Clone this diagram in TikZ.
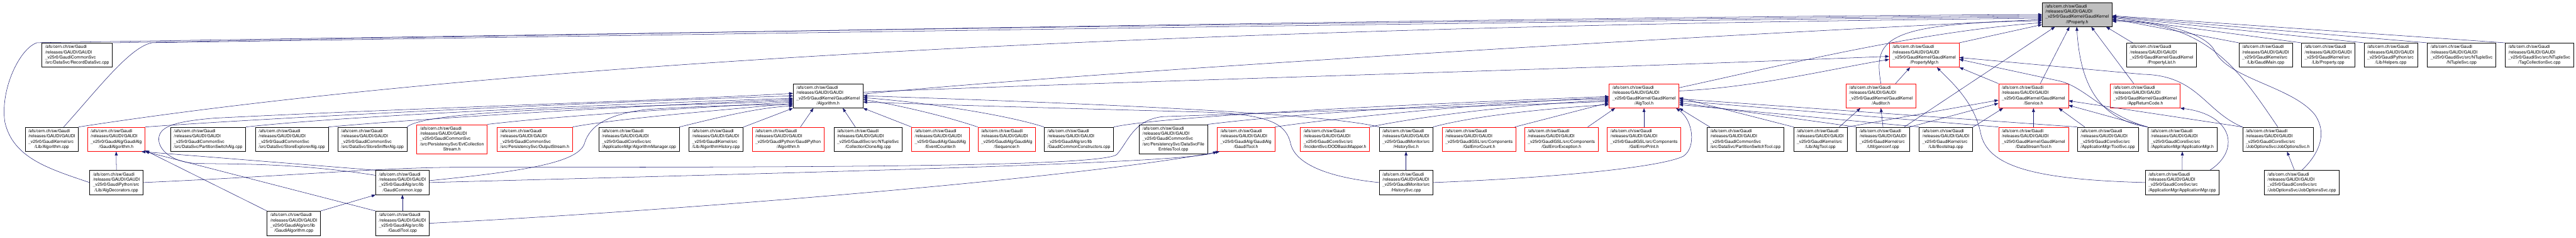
\documentclass[tikz,border=0pt]{standalone}
\usepackage{fontspec}
\setmainfont{TeX Gyre Heros}
\usetikzlibrary{arrows.meta}
\definecolor{edgeblue}{HTML}{191970}
\definecolor{rootgray}{HTML}{BFBFBF}
\newcommand{\gfont}{\fontsize{13.3}{16.1}\selectfont}
\newcommand{\gfile}[2]{\begin{tabular}{@{}l@{}}/afs/cern.ch/sw/Gaudi\\/releases/GAUDI/GAUDI\\\_v25r0/#1\\\multicolumn{1}{@{}c@{}}{#2}\end{tabular}}
\newcommand{\gfilev}[3]{\begin{tabular}{@{}l@{}}/afs/cern.ch/sw/Gaudi\\/releases/GAUDI/GAUDI\\\_v25r0/#1\\#2\\\multicolumn{1}{@{}c@{}}{#3}\end{tabular}}
\tikzset{
  file/.style={draw=black,line width=1.1pt,inner xsep=10pt,inner ysep=5.1pt,font=\gfont},
  trunc/.style={file,draw=red},
  root/.style={file,fill=rootgray},
  dep/.style={->,draw=edgeblue,line width=1pt},
}
\begin{document}
\begin{tikzpicture}[x=1pt,y=-1.1043pt,>={Triangle[length=12pt,width=9pt]}]
\useasboundingbox (0,0) rectangle (7934,661.96);

\node[root]  (ip)         at (6397.5,40.5)  {\gfile{GaudiKernel/GaudiKernel}{/IProperty.h}};

\node[file]  (recsvc)     at (237.5,153.5)  {\gfile{GaudiCommonSvc}{/src/DataSvc/RecordDataSvc.cpp}};
\node[trunc] (pmgr)       at (5926.5,153.5) {\gfile{GaudiKernel/GaudiKernel}{/PropertyMgr.h}};
\node[file]  (plist)      at (6657.5,153.5) {\gfile{GaudiKernel/GaudiKernel}{/PropertyList.h}};
\node[file]  (gmain)      at (6978,153.5)   {\gfile{GaudiKernel/src}{/Lib/GaudiMain.cpp}};
\node[file]  (propcpp)    at (7170.5,153.5) {\gfile{GaudiKernel/src}{/Lib/Property.cpp}};
\node[file]  (helpers)    at (7363.5,153.5) {\gfile{GaudiPython/src}{/Lib/Helpers.cpp}};
\node[file]  (ntsvc)      at (7581.5,153.5) {\gfile{GaudiSvc/src/NTupleSvc}{/NTupleSvc.cpp}};
\node[file]  (tagsvc)     at (7821,153.5)   {\gfile{GaudiSvc/src/NTupleSvc}{/TagCollectionSvc.cpp}};

\node[file]  (algh)       at (2550.5,267)   {\gfile{GaudiKernel/GaudiKernel}{/Algorithm.h}};
\node[trunc] (algtoolh)   at (5063.5,267)   {\gfile{GaudiKernel/GaudiKernel}{/AlgTool.h}};
\node[trunc] (auditor)    at (5793,267)     {\gfile{GaudiKernel/GaudiKernel}{/Auditor.h}};
\node[trunc] (service)    at (6263,267)     {\gfile{GaudiKernel/GaudiKernel}{/Service.h}};
\node[trunc] (appret)     at (6607,267)     {\gfile{GaudiKernel/GaudiKernel}{/AppReturnCode.h}};

\node[file]  (algcpp)     at (159.5,388)    {\gfile{GaudiKernel/src}{/Lib/Algorithm.cpp}};
\node[trunc] (gah)        at (358,388)      {\gfile{GaudiAlg/GaudiAlg}{/GaudiAlgorithm.h}};
\node[file]  (psalg)      at (641,388)      {\gfile{GaudiCommonSvc}{/src/DataSvc/PartitionSwitchAlg.cpp}};
\node[file]  (sealg)      at (899,388)      {\gfile{GaudiCommonSvc}{/src/DataSvc/StoreExplorerAlg.cpp}};
\node[file]  (ssalg)      at (1147,388)     {\gfile{GaudiCommonSvc}{/src/DataSvc/StoreSnifferAlg.cpp}};
\node[trunc] (evtcs)      at (1392,388)     {\gfilev{GaudiCommonSvc}{/src/PersistencySvc/EvtCollection}{Stream.h}};
\node[trunc] (outs)       at (1647,388)     {\gfile{GaudiCommonSvc}{/src/PersistencySvc/OutputStream.h}};
\node[file]  (algmgr)     at (1968,388)     {\gfile{GaudiCoreSvc/src}{/ApplicationMgr/AlgorithmManager.cpp}};
\node[file]  (alghist)    at (2205.5,388)   {\gfile{GaudiKernel/src}{/Lib/AlgorithmHistory.cpp}};
\node[trunc] (pyalg)      at (2427.5,388)   {\gfile{GaudiPython/GaudiPython}{/Algorithm.h}};
\node[file]  (ccalg)      at (2673.5,388)   {\gfile{GaudiSvc/src/NTupleSvc}{/CollectionCloneAlg.cpp}};
\node[trunc] (evcnt)      at (2896.5,388)   {\gfile{GaudiAlg/GaudiAlg}{/EventCounter.h}};
\node[trunc] (seqh)       at (3100.5,388)   {\gfile{GaudiAlg/GaudiAlg}{/Sequencer.h}};
\node[file]  (gccons)     at (3323,388)     {\gfile{GaudiAlg/src/lib}{/GaudiCommonConstructors.cpp}};
\node[file]  (dsfet)      at (3614,388)     {\gfilev{GaudiCommonSvc}{/src/PersistencySvc/DataSvcFile}{EntriesTool.cpp}};
\node[trunc] (gth)        at (3837.5,388)   {\gfile{GaudiAlg/GaudiAlg}{/GaudiTool.h}};
\node[trunc] (dodmap)     at (4111.5,388)   {\gfile{GaudiCoreSvc/src}{/IncidentSvc/DODBasicMapper.h}};
\node[file]  (histh)      at (4330.5,388)   {\gfile{GaudiMonitor/src}{/HistorySvc.h}};
\node[trunc] (gslcnt)     at (4555.5,388)   {\gfile{GaudiGSL/src/Components}{/GslErrorCount.h}};
\node[trunc] (gslexc)     at (4809,388)     {\gfile{GaudiGSL/src/Components}{/GslErrorException.h}};
\node[trunc] (gslprt)     at (5063.5,388)   {\gfile{GaudiGSL/src/Components}{/GslErrorPrint.h}};
\node[file]  (pstool)     at (5376,388)     {\gfile{GaudiCommonSvc}{/src/DataSvc/PartitionSwitchTool.cpp}};
\node[file]  (algtoolcpp) at (5606.5,388)   {\gfile{GaudiKernel/src}{/Lib/AlgTool.cpp}};
\node[file]  (genconf)    at (5799.5,388)   {\gfile{GaudiKernel/src}{/Util/genconf.cpp}};
\node[file]  (bootstrap)  at (5993,388)     {\gfile{GaudiKernel/src}{/Lib/Bootstrap.cpp}};
\node[trunc] (dstool)     at (6263,388)     {\gfile{GaudiKernel/GaudiKernel}{/DataStreamTool.h}};
\node[file]  (toolsvc)    at (6492,388)     {\gfile{GaudiCoreSvc/src}{/ApplicationMgr/ToolSvc.cpp}};
\node[file]  (appmgrh)    at (6721.5,388)   {\gfile{GaudiCoreSvc/src}{/ApplicationMgr/ApplicationMgr.h}};
\node[file]  (josh)       at (7015.5,388)   {\gfile{GaudiCoreSvc/src}{/JobOptionsSvc/JobOptionsSvc.h}};

\node[file]  (algdec)     at (358.5,508.5)  {\gfile{GaudiPython/src}{/Lib/AlgDecorators.cpp}};
\node[file]  (gcicpp)     at (1239.5,508.5) {\gfile{GaudiAlg/src/lib}{/GaudiCommon.icpp}};
\node[file]  (histcpp)    at (4330.5,508.5) {\gfile{GaudiMonitor/src}{/HistorySvc.cpp}};
\node[file]  (appmgrcpp)  at (6721,508.5)   {\gfile{GaudiCoreSvc/src}{/ApplicationMgr/ApplicationMgr.cpp}};
\node[file]  (joscpp)     at (7089.5,508.5) {\gfile{GaudiCoreSvc/src}{/JobOptionsSvc/JobOptionsSvc.cpp}};

\node[file]  (gacpp)      at (905,622)      {\gfile{GaudiAlg/src/lib}{/GaudiAlgorithm.cpp}};
\node[file]  (gtcpp)      at (1239.5,622)   {\gfile{GaudiAlg/src/lib}{/GaudiTool.cpp}};

\draw[dep] (recsvc.north east) .. controls (2500,85) and (5000,45) .. (ip.180);
\draw[dep] (algdec.west) .. controls (150,470) and (40,440) .. (15,340) .. controls (0,250) and (60,135) .. (114,119) .. controls (2000,92) and (5000,50) .. (ip.182);
\draw[dep] (algcpp.46) .. controls (300,250) and (400,130) .. (469,119) .. controls (2000,98) and (5000,55) .. (ip.184);
\draw[dep] (algcpp.north east) .. controls (1200,220) and (3000,80) .. (ip.186);
\draw[dep] (algh.3) .. controls (3300,205) and (5000,110) .. (ip.188);
\draw[dep] (auditor.north) .. controls (5770,110) and (5800,65) .. (ip.190);
\draw[dep] (algtoolh.13) .. controls (5500,180) and (5900,90) .. (ip.193);
\draw[dep] (pmgr.north east) -- (ip.196);
\draw[dep] (genconf.30) -- (ip.209);
\draw[dep] (service.61) -- (ip.238);
\draw[dep] (appmgrh.north west) .. controls (6440,330) and (6405,200) .. (ip.268);
\draw[dep] (appret.133) -- (ip.319);
\draw[dep] (plist.157) -- (ip.337);
\draw[dep] (josh.north) .. controls (6900,200) and (6800,60) .. (ip.349);
\draw[dep] (joscpp.north) .. controls (7130,440) and (7175,380) .. (7130,320) .. controls (7060,240) and (6860,220) .. (6820,140) .. controls (6790,90) and (6650,60) .. (ip.351);
\draw[dep] (gmain.north west) -- (ip.353);
\draw[dep] (propcpp.north west) -- (ip.355);
\draw[dep] (helpers.north west) -- (ip.356);
\draw[dep] (ntsvc.north west) -- (ip.357);
\draw[dep] (tagsvc.north west) -- (ip.358);

\draw[dep] (algh.6) .. controls (3500,225) and (4800,195) .. (pmgr.182);
\draw[dep] (algtoolh.8) .. controls (5400,245) and (5650,190) .. (pmgr.187);
\draw[dep] (auditor.40) -- (pmgr.221);
\draw[dep] (service.north west) -- (pmgr.south east);
\draw[dep] (appmgrh.north west) .. controls (6480,320) and (6420,240) .. (6340,225) -- (pmgr.353);
\draw[dep] (josh.north west) .. controls (6790,310) and (6770,210) .. (6600,207) -- (pmgr.356);
\draw[dep] (appmgrcpp.west) .. controls (6250,500) and (6120,460) .. (6100,370) .. controls (6080,280) and (6000,220) .. (pmgr.316);

\draw[dep] (appmgrcpp.north) -- (appmgrh.south);
\draw[dep] (appmgrcpp.24) .. controls (6900,420) and (6880,320) .. (appret.south east);
\draw[dep] (joscpp.121) -- (josh.307);
\draw[dep] (histcpp.north) -- (histh.south);

\draw[dep] (bootstrap.24) -- (service.202);
\draw[dep] (dstool.north) -- (service.south);
\draw[dep] (toolsvc.152) -- (service.334);
\draw[dep] (appmgrh.north west) -- (service.345);
\draw[dep] (josh.north west) -- (service.352);
\draw[dep] (algtoolcpp.north east) -- (service.187);
\draw[dep] (genconf.north east) -- (service.192);

\draw[dep] (algtoolcpp.33) -- (auditor.211);
\draw[dep] (genconf.north) -- (auditor.south);

\draw[dep] (gslexc.25) -- (algtoolh.203);
\draw[dep] (gslprt.north) -- (algtoolh.south);
\draw[dep] (gslcnt.19) -- (algtoolh.191);
\draw[dep] (pstool.161) -- (algtoolh.south east);
\draw[dep] (histcpp.east) .. controls (4800,495) and (5120,465) .. (5185,435) .. controls (5225,410) and (5215,335) .. (algtoolh.339);
\draw[dep] (dstool.north west) -- (algtoolh.352);
\draw[dep] (toolsvc.north west) -- (algtoolh.355);
\draw[dep] (algtoolcpp.north west) -- (algtoolh.357);
\draw[dep] (genconf.north west) -- (algtoolh.349);
\draw[dep] (bootstrap.north west) -- (algtoolh.346);
\draw[dep] (gccons.north east) .. controls (3600,320) and (4500,285) .. (algtoolh.181);
\draw[dep] (gth.north east) .. controls (4100,330) and (4600,285) .. (algtoolh.183);
\draw[dep] (dsfet.north east) .. controls (3950,320) and (4500,285) .. (algtoolh.185);
\draw[dep] (dodmap.north east) .. controls (4400,320) and (4700,290) .. (algtoolh.187);
\draw[dep] (algdec.east) .. controls (900,490) and (1150,468) .. (1400,466) .. controls (2500,466) and (3400,465) .. (3440,430) .. controls (3475,395) and (3490,335) .. (3580,325) .. controls (4200,305) and (4700,292) .. (algtoolh.189);
\draw[dep] (histh.north east) .. controls (4550,320) and (4800,300) .. (algtoolh.194);

\draw[dep] (gcicpp.165) .. controls (900,452) and (700,458) .. (600,455) .. controls (520,450) and (482,410) .. (490,380) .. controls (497,352) and (540,338) .. (662,329) .. controls (1300,300) and (2000,282) .. (algh.176);
\draw[dep] (gah.north east) .. controls (1000,318) and (2000,280) .. (algh.180);
\draw[dep] (psalg.north east) .. controls (1100,320) and (1900,290) .. (algh.184);
\draw[dep] (sealg.north east) .. controls (1300,330) and (2000,292) .. (algh.186);
\draw[dep] (ssalg.north east) .. controls (1320,300) and (2050,298) .. (algh.188);
\draw[dep] (evtcs.north east) .. controls (1750,320) and (2150,300) .. (algh.190);
\draw[dep] (outs.north east) .. controls (1900,330) and (2250,305) .. (algh.192);
\draw[dep] (gcicpp.4) .. controls (1600,478) and (1780,455) .. (1800,400) .. controls (1818,345) and (1880,318) .. (1990,305) .. controls (2200,293) and (2350,292) .. (algh.194);
\draw[dep] (algmgr.north east) .. controls (2200,330) and (2330,300) .. (algh.196);
\draw[dep] (alghist.24) -- (algh.south west);
\draw[dep] (pyalg.45) -- (algh.220);
\draw[dep] (ccalg.136) -- (algh.320);
\draw[dep] (evcnt.north west) -- (algh.south east);
\draw[dep] (seqh.north west) .. controls (2900,320) and (2750,290) .. (algh.354);
\draw[dep] (gccons.north west) .. controls (3100,320) and (2850,285) .. (algh.357);
\draw[dep] (histh.north west) .. controls (4100,320) and (3500,292) .. (algh.0);
\draw[dep] (histcpp.west) .. controls (4100,495) and (3990,460) .. (3975,400) .. controls (3960,340) and (3900,318) .. (3700,312) .. controls (3200,300) and (2900,292) .. (algh.350);

\draw[dep] (algdec.north) -- (gah.south);
\draw[dep] (gcicpp.north west) -- (gah.334);
\draw[dep] (gtcpp.north west) -- (gah.337);
\draw[dep] (gacpp.north west) -- (gah.339);
\draw[dep] (gacpp.north east) -- (gcicpp.south west);
\draw[dep] (gtcpp.north) -- (gcicpp.south);

\draw[dep] (gcicpp.east) .. controls (2500,480) and (3650,455) .. (gth.south west);
\draw[dep] (gtcpp.east) .. controls (2000,592) and (3300,500) .. (gth.205);
\end{tikzpicture}
\end{document}
